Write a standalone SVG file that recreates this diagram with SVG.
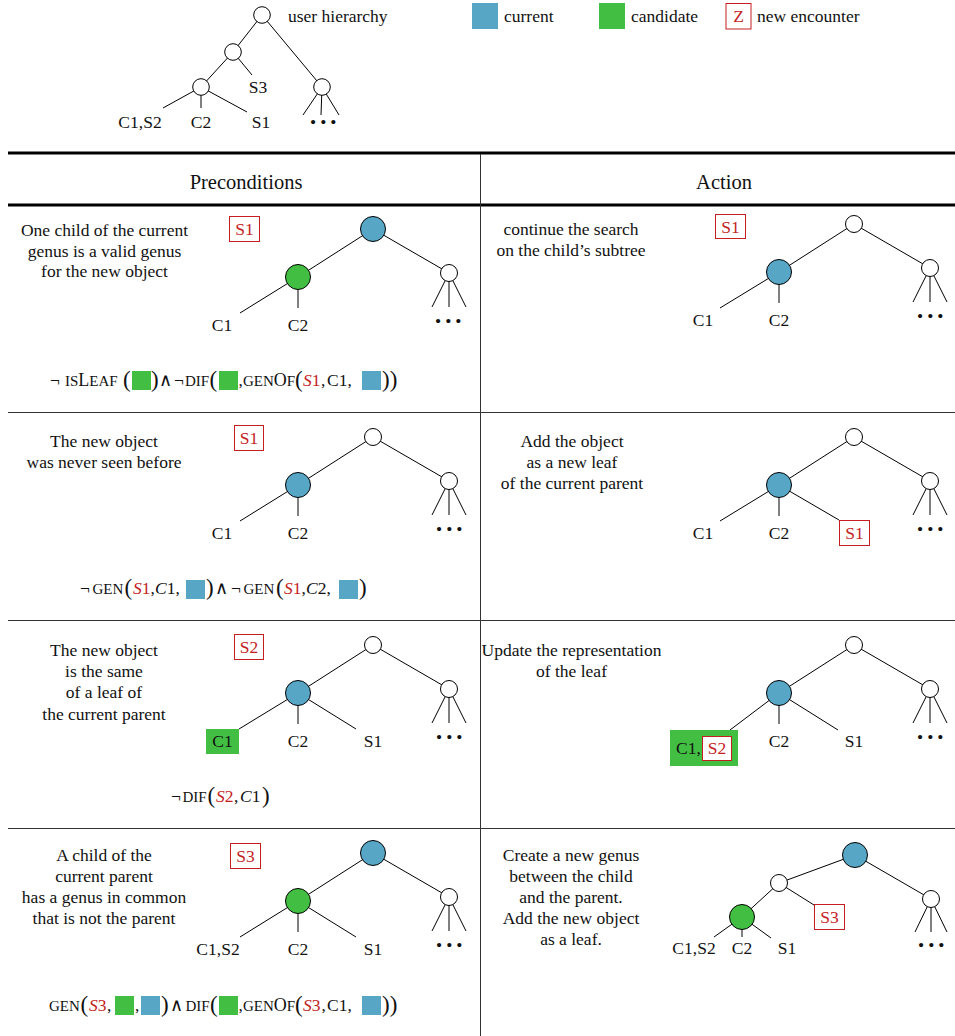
<svg xmlns="http://www.w3.org/2000/svg" width="955" height="1036" viewBox="0 0 955 1036">
<style>
text{font-family:"Liberation Serif","DejaVu Serif",serif;font-size:17.5px;fill:#111}
.m{text-anchor:middle}
.h{font-size:20.5px}
.r{fill:#c41e1e}
.sc{font-variant:small-caps;font-size:21px}
.cap{font-size:18px}
.i{font-style:italic}
.p{font-size:23px}
.and{font-family:"DejaVu Sans",sans-serif;font-weight:200}
.dots{letter-spacing:4px}
.e{stroke:#000;stroke-width:1;fill:none}
.cur{fill:#57a6c6;stroke:#000;stroke-width:1}
.cand{fill:#42bf42;stroke:#000;stroke-width:1}
.wn{fill:#fff;stroke:#000;stroke-width:1}
.box{fill:#fff;stroke:#c41e1e;stroke-width:1}
.sb{fill:#57a6c6}
.sg{fill:#42bf42}
.rule{stroke:#000;stroke-width:3}
.thin{stroke:#333;stroke-width:1}
</style>

<!-- table -->
<g id="table">
<line class="rule" x1="8" y1="153" x2="955" y2="153"/>
<line class="rule" x1="8" y1="205" x2="955" y2="205"/>
<line class="thin" x1="8" y1="412.5" x2="955" y2="412.5"/>
<line class="thin" x1="8" y1="620.5" x2="955" y2="620.5"/>
<line class="thin" x1="8" y1="828.5" x2="955" y2="828.5"/>
<line class="thin" x1="480.5" y1="154" x2="480.5" y2="1036"/>
<text class="h m" x="246" y="189">Preconditions</text>
<text class="h m" x="724" y="189">Action</text>
</g>

<!-- connectors -->
<g id="connectors" class="e">
<!-- legend tree -->
<line x1="262" y1="15" x2="233" y2="52"/>
<line x1="262" y1="15" x2="322" y2="87"/>
<line x1="233" y1="52" x2="201" y2="87"/>
<line x1="233" y1="52" x2="252" y2="75"/>
<line x1="201" y1="87" x2="163" y2="108"/>
<line x1="201" y1="87" x2="201" y2="108"/>
<line x1="201" y1="87" x2="247" y2="112"/>
<line x1="322" y1="87" x2="303" y2="115"/>
<line x1="322" y1="87" x2="321" y2="115"/>
<line x1="322" y1="87" x2="339" y2="115"/>
<!-- row1 left -->
<line x1="373" y1="229" x2="298" y2="277"/>
<line x1="373" y1="229" x2="449" y2="273"/>
<line x1="298" y1="277" x2="240" y2="313"/>
<line x1="298" y1="277" x2="298" y2="308"/>
<line x1="449" y1="273" x2="432" y2="307"/>
<line x1="449" y1="273" x2="449" y2="307"/>
<line x1="449" y1="273" x2="466" y2="307"/>
<!-- row1 right -->
<line x1="854" y1="224" x2="779" y2="272"/>
<line x1="854" y1="224" x2="930" y2="268"/>
<line x1="779" y1="272" x2="720" y2="308"/>
<line x1="779" y1="272" x2="779" y2="303"/>
<line x1="930" y1="268" x2="913" y2="302"/>
<line x1="930" y1="268" x2="930" y2="302"/>
<line x1="930" y1="268" x2="947" y2="302"/>
<!-- row2 left -->
<line x1="373" y1="437" x2="298" y2="485"/>
<line x1="373" y1="437" x2="449" y2="481"/>
<line x1="298" y1="485" x2="240" y2="521"/>
<line x1="298" y1="485" x2="298" y2="516"/>
<line x1="449" y1="481" x2="432" y2="515"/>
<line x1="449" y1="481" x2="449" y2="515"/>
<line x1="449" y1="481" x2="466" y2="515"/>
<!-- row2 right -->
<line x1="854" y1="437" x2="779" y2="485"/>
<line x1="854" y1="437" x2="930" y2="481"/>
<line x1="779" y1="485" x2="720" y2="521"/>
<line x1="779" y1="485" x2="779" y2="516"/>
<line x1="779" y1="485" x2="839" y2="520"/>
<line x1="930" y1="481" x2="913" y2="515"/>
<line x1="930" y1="481" x2="930" y2="515"/>
<line x1="930" y1="481" x2="947" y2="515"/>
<!-- row3 left -->
<line x1="373" y1="645" x2="298" y2="693"/>
<line x1="373" y1="645" x2="449" y2="689"/>
<line x1="298" y1="693" x2="239" y2="729"/>
<line x1="298" y1="693" x2="298" y2="724"/>
<line x1="298" y1="693" x2="356" y2="729"/>
<line x1="449" y1="689" x2="432" y2="723"/>
<line x1="449" y1="689" x2="449" y2="723"/>
<line x1="449" y1="689" x2="466" y2="723"/>
<!-- row3 right -->
<line x1="854" y1="645" x2="779" y2="693"/>
<line x1="854" y1="645" x2="930" y2="689"/>
<line x1="779" y1="693" x2="730" y2="730"/>
<line x1="779" y1="693" x2="779" y2="724"/>
<line x1="779" y1="693" x2="838" y2="730"/>
<line x1="930" y1="689" x2="913" y2="723"/>
<line x1="930" y1="689" x2="930" y2="723"/>
<line x1="930" y1="689" x2="947" y2="723"/>
<!-- row4 left -->
<line x1="373" y1="853" x2="298" y2="901"/>
<line x1="373" y1="853" x2="449" y2="897"/>
<line x1="298" y1="901" x2="240" y2="937"/>
<line x1="298" y1="901" x2="298" y2="932"/>
<line x1="298" y1="901" x2="356" y2="937"/>
<line x1="449" y1="897" x2="432" y2="931"/>
<line x1="449" y1="897" x2="449" y2="931"/>
<line x1="449" y1="897" x2="466" y2="931"/>
<!-- row4 right -->
<line x1="855" y1="855" x2="779" y2="883"/>
<line x1="855" y1="855" x2="931" y2="899"/>
<line x1="779" y1="883" x2="742" y2="917"/>
<line x1="779" y1="883" x2="814" y2="905"/>
<line x1="742" y1="917" x2="714" y2="937"/>
<line x1="742" y1="917" x2="742" y2="937"/>
<line x1="742" y1="917" x2="771" y2="938"/>
<line x1="931" y1="899" x2="915" y2="932"/>
<line x1="931" y1="899" x2="931" y2="932"/>
<line x1="931" y1="899" x2="947" y2="932"/>
</g>

<!-- legend -->
<g id="legend-tree">
<g id="lg-root"><circle class="wn" cx="262" cy="15" r="8.3"/><text x="288" y="22">user hierarchy</text></g>
<g id="lg-n1"><circle class="wn" cx="233" cy="52" r="8.3"/></g>
<g id="lg-n2"><circle class="wn" cx="201" cy="87" r="8.3"/></g>
<g id="lg-n3"><circle class="wn" cx="322" cy="87" r="8.3"/></g>
<g id="lg-s3"><text class="m" x="258" y="93">S3</text></g>
<g id="lg-c1s2"><text class="m" x="140" y="128">C1,S2</text></g>
<g id="lg-c2"><text class="m" x="201" y="128">C2</text></g>
<g id="lg-s1"><text class="m" x="261" y="128">S1</text></g>
<g id="lg-dots"><text class="dots" x="310" y="128">•••</text></g>
</g>
<g id="legend-key">
<g id="key-current"><rect class="sb" x="472" y="3" width="26" height="26"/><text x="504" y="22">current</text></g>
<g id="key-candidate"><rect class="sg" x="599" y="3" width="26" height="26"/><text x="631" y="22">candidate</text></g>
<g id="key-new"><rect class="box" x="726" y="3.5" width="25" height="25.5"/><text class="m r" x="738.5" y="22">Z</text><text x="757" y="22">new encounter</text></g>
</g>

<!-- ROW 1 -->
<g id="r1-pre-text">
<text class="m" x="104.5" y="236">One child of the current</text>
<text class="m" x="104.5" y="256.5">genus is a valid genus</text>
<text class="m" x="104.5" y="277">for the new object</text>
</g>
<g id="r1-pre-new"><rect class="box" x="229.5" y="216.5" width="30" height="25"/><text class="m r" x="244.5" y="235">S1</text></g>
<g id="r1l-root"><circle class="cur" cx="373" cy="229" r="12.5"/></g>
<g id="r1l-child"><circle class="cand" cx="298" cy="277" r="12.5"/></g>
<g id="r1l-other"><circle class="wn" cx="449" cy="273" r="8.5"/></g>
<g id="r1l-c1"><text class="m" x="222" y="331">C1</text></g>
<g id="r1l-c2"><text class="m" x="298" y="331">C2</text></g>
<g id="r1l-dots"><text class="dots" x="435" y="327">•••</text></g>
<g id="r1-formula">
<text x="50" y="386">¬</text>
<text x="65" y="386" class="sc">is<tspan class="cap">L</tspan>eaf</text>
<text x="123" y="387" class="p">(</text>
<rect class="sg" x="132" y="371" width="19" height="19"/>
<text x="151" y="387" class="p">)</text>
<text x="159" y="386" class="and">∧</text>
<text x="174" y="386">¬</text>
<text x="185" y="386" class="sc">dif</text>
<text x="209.5" y="387" class="p">(</text>
<rect class="sg" x="219" y="371" width="19" height="19"/>
<text x="238.5" y="386">,</text>
<text x="243" y="386" class="sc">gen<tspan class="cap">O</tspan>f</text>
<text x="295" y="387" class="p">(</text>
<text x="303" y="386" class="r"><tspan class="i">S</tspan>1</text>
<text x="321" y="386">,</text>
<text x="327" y="386">C1,</text>
<rect class="sb" x="362" y="371" width="19" height="19"/>
<text x="382" y="387" class="p">))</text>
</g>

<g id="r1-act-text">
<text class="m" x="571" y="235">continue the search</text>
<text class="m" x="571" y="255.5">on the child’s subtree</text>
</g>
<g id="r1-act-new"><rect class="box" x="715.5" y="214.5" width="30" height="24"/><text class="m r" x="730.5" y="232.5">S1</text></g>
<g id="r1r-root"><circle class="wn" cx="854" cy="224" r="8.5"/></g>
<g id="r1r-child"><circle class="cur" cx="779" cy="272" r="12.5"/></g>
<g id="r1r-other"><circle class="wn" cx="930" cy="268" r="8.5"/></g>
<g id="r1r-c1"><text class="m" x="703" y="326">C1</text></g>
<g id="r1r-c2"><text class="m" x="779" y="326">C2</text></g>
<g id="r1r-dots"><text class="dots" x="917" y="322">•••</text></g>

<!-- ROW 2 -->
<g id="r2-pre-text">
<text class="m" x="104" y="447">The new object</text>
<text class="m" x="104" y="468">was never seen before</text>
</g>
<g id="r2-pre-new"><rect class="box" x="234.5" y="425.5" width="29" height="25"/><text class="m r" x="249" y="444">S1</text></g>
<g id="r2l-root"><circle class="wn" cx="373" cy="437" r="8.5"/></g>
<g id="r2l-child"><circle class="cur" cx="298" cy="485" r="12.5"/></g>
<g id="r2l-other"><circle class="wn" cx="449" cy="481" r="8.5"/></g>
<g id="r2l-c1"><text class="m" x="222" y="539">C1</text></g>
<g id="r2l-c2"><text class="m" x="298" y="539">C2</text></g>
<g id="r2l-dots"><text class="dots" x="436" y="535">•••</text></g>
<g id="r2-formula">
<text x="80" y="594">¬</text>
<text x="92.5" y="594" class="sc">gen</text>
<text x="124.5" y="595" class="p">(</text>
<text x="133" y="594" class="r"><tspan class="i">S</tspan>1</text>
<text x="150.5" y="594">,</text>
<text x="155" y="594"><tspan class="i">C</tspan>1,</text>
<rect class="sb" x="186" y="580" width="19" height="19"/>
<text x="206" y="595" class="p">)</text>
<text x="215" y="594" class="and">∧</text>
<text x="231" y="594">¬</text>
<text x="243.5" y="594" class="sc">gen</text>
<text x="276" y="595" class="p">(</text>
<text x="284" y="594" class="r"><tspan class="i">S</tspan>1</text>
<text x="301.5" y="594">,</text>
<text x="306" y="594"><tspan class="i">C</tspan>2,</text>
<rect class="sb" x="339" y="580" width="19" height="19"/>
<text x="359" y="595" class="p">)</text>
</g>

<g id="r2-act-text">
<text class="m" x="572" y="447">Add the object</text>
<text class="m" x="572" y="468">as a new leaf</text>
<text class="m" x="572" y="489">of the current parent</text>
</g>
<g id="r2r-root"><circle class="wn" cx="854" cy="437" r="8.5"/></g>
<g id="r2r-child"><circle class="cur" cx="779" cy="485" r="12.5"/></g>
<g id="r2r-other"><circle class="wn" cx="930" cy="481" r="8.5"/></g>
<g id="r2r-c1"><text class="m" x="703" y="539">C1</text></g>
<g id="r2r-c2"><text class="m" x="779" y="539">C2</text></g>
<g id="r2r-s1"><rect class="box" x="839.5" y="520.5" width="30" height="25"/><text class="m r" x="854.5" y="539">S1</text></g>
<g id="r2r-dots"><text class="dots" x="917" y="535">•••</text></g>

<!-- ROW 3 -->
<g id="r3-pre-text">
<text class="m" x="104" y="656">The new object</text>
<text class="m" x="104" y="677">is the same</text>
<text class="m" x="104" y="698">of a leaf of</text>
<text class="m" x="104" y="719.5">the current parent</text>
</g>
<g id="r3-pre-new"><rect class="box" x="234.5" y="634.5" width="29" height="25"/><text class="m r" x="249" y="653">S2</text></g>
<g id="r3l-root"><circle class="wn" cx="373" cy="645" r="8.5"/></g>
<g id="r3l-child"><circle class="cur" cx="298" cy="693" r="12.5"/></g>
<g id="r3l-other"><circle class="wn" cx="449" cy="689" r="8.5"/></g>
<g id="r3l-c1"><rect class="sg" x="206" y="729" width="33" height="25"/><text class="m" x="222.5" y="747">C1</text></g>
<g id="r3l-c2"><text class="m" x="298" y="747">C2</text></g>
<g id="r3l-s1"><text class="m" x="373" y="747">S1</text></g>
<g id="r3l-dots"><text class="dots" x="436" y="743">•••</text></g>
<g id="r3-formula">
<text x="171" y="802">¬</text>
<text x="182.5" y="802" class="sc">dif</text>
<text x="207.5" y="803" class="p">(</text>
<text x="216" y="802" class="r"><tspan class="i">S</tspan>2</text>
<text x="234" y="802">,</text>
<text x="240" y="802"><tspan class="i">C</tspan>1</text>
<text x="262" y="803" class="p">)</text>
</g>

<g id="r3-act-text">
<text class="m" x="571.5" y="656">Update the representation</text>
<text class="m" x="571.5" y="677">of the leaf</text>
</g>
<g id="r3r-root"><circle class="wn" cx="854" cy="645" r="8.5"/></g>
<g id="r3r-child"><circle class="cur" cx="779" cy="693" r="12.5"/></g>
<g id="r3r-other"><circle class="wn" cx="930" cy="689" r="8.5"/></g>
<g id="r3r-c1"><rect class="sg" x="670" y="730" width="68" height="36"/><text x="676" y="754">C1,</text><rect class="box" x="702.5" y="736.5" width="29" height="24"/><text class="m r" x="717" y="754">S2</text></g>
<g id="r3r-c2"><text class="m" x="779" y="747">C2</text></g>
<g id="r3r-s1"><text class="m" x="854" y="747">S1</text></g>
<g id="r3r-dots"><text class="dots" x="917" y="743">•••</text></g>

<!-- ROW 4 -->
<g id="r4-pre-text">
<text class="m" x="104" y="861">A child of the</text>
<text class="m" x="104" y="882">current parent</text>
<text class="m" x="104" y="903">has a genus in common</text>
<text class="m" x="104" y="924">that is not the parent</text>
</g>
<g id="r4-pre-new"><rect class="box" x="230.5" y="843.5" width="30" height="25"/><text class="m r" x="245.5" y="862">S3</text></g>
<g id="r4l-root"><circle class="cur" cx="373" cy="853" r="12.5"/></g>
<g id="r4l-child"><circle class="cand" cx="298" cy="901" r="12.5"/></g>
<g id="r4l-other"><circle class="wn" cx="449" cy="897" r="8.5"/></g>
<g id="r4l-c1s2"><text class="m" x="218" y="955">C1,S2</text></g>
<g id="r4l-c2"><text class="m" x="298" y="955">C2</text></g>
<g id="r4l-s1"><text class="m" x="373" y="955">S1</text></g>
<g id="r4l-dots"><text class="dots" x="436" y="951">•••</text></g>
<g id="r4-formula">
<text x="49" y="1011" class="sc">gen</text>
<text x="80.5" y="1012" class="p">(</text>
<text x="89" y="1011" class="r"><tspan class="i">S</tspan>3</text>
<text x="107" y="1011">,</text>
<rect class="sg" x="115" y="996" width="19" height="19"/>
<text x="135" y="1011">,</text>
<rect class="sb" x="141" y="996" width="19" height="19"/>
<text x="161" y="1012" class="p">)</text>
<text x="170" y="1011" class="and">∧</text>
<text x="185.5" y="1011" class="sc">dif</text>
<text x="210" y="1012" class="p">(</text>
<rect class="sg" x="219" y="996" width="19" height="19"/>
<text x="238.5" y="1011">,</text>
<text x="243" y="1011" class="sc">gen<tspan class="cap">O</tspan>f</text>
<text x="295" y="1012" class="p">(</text>
<text x="303" y="1011" class="r"><tspan class="i">S</tspan>3</text>
<text x="321.5" y="1011">,</text>
<text x="327" y="1011">C1,</text>
<rect class="sb" x="362" y="996" width="19" height="19"/>
<text x="382" y="1012" class="p">))</text>
</g>

<g id="r4-act-text">
<text class="m" x="571" y="861">Create a new genus</text>
<text class="m" x="571" y="882">between the child</text>
<text class="m" x="571" y="903">and the parent.</text>
<text class="m" x="571" y="924">Add the new object</text>
<text class="m" x="571" y="945">as a leaf.</text>
</g>
<g id="r4r-root"><circle class="cur" cx="855" cy="855" r="12.5"/></g>
<g id="r4r-newgenus"><circle class="wn" cx="779" cy="883" r="8.5"/></g>
<g id="r4r-child"><circle class="cand" cx="742" cy="917" r="12.5"/></g>
<g id="r4r-other"><circle class="wn" cx="931" cy="899" r="8.5"/></g>
<g id="r4r-s3"><rect class="box" x="814.5" y="904.5" width="30" height="25"/><text class="m r" x="829.5" y="923">S3</text></g>
<g id="r4r-c1s2"><text class="m" x="694" y="954">C1,S2</text></g>
<g id="r4r-c2"><text class="m" x="742" y="954">C2</text></g>
<g id="r4r-s1"><text class="m" x="787" y="954">S1</text></g>
<g id="r4r-dots"><text class="dots" x="918" y="951">•••</text></g>
</svg>
